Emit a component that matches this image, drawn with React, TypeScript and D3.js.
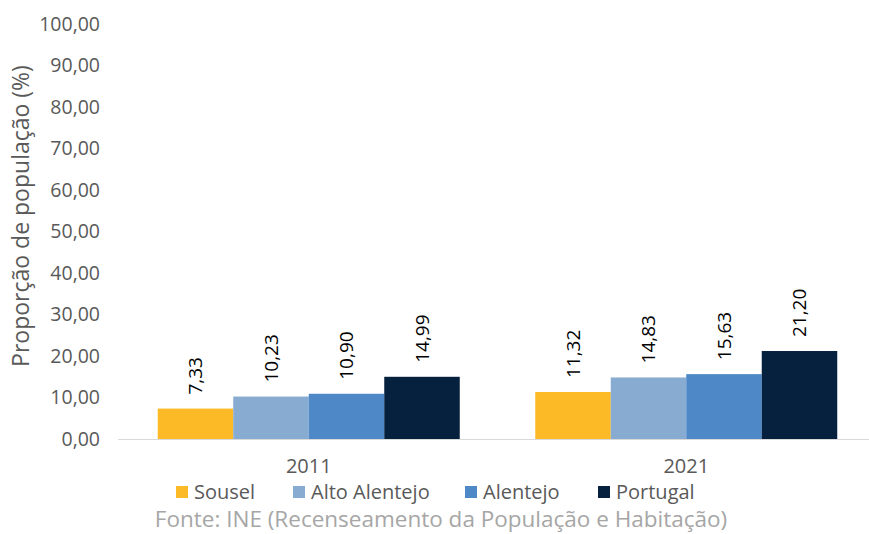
import React from "react";
import * as d3 from "d3";

const years = ["2011", "2021"];
const seriesNames = ["Sousel", "Alto Alentejo", "Alentejo", "Portugal"];
const sousel = [7.33, 11.32];
const altoAlentejo = [10.23, 14.83];
const alentejo = [10.9, 15.63];
const portugal = [14.99, 21.2];
const yTicks = [0, 10, 20, 30, 40, 50, 60, 70, 80, 90, 100];
const colors = ["#FCBA27", "#87ABD1", "#4E88C7", "#05213E"];
const yTitle = "Proporção de população (%)";
const source = "Fonte: INE (Recenseamento da População e Habitação)";

const W = 869;
const H = 534;
const FONT = "'Open Sans', sans-serif";
const fmt = (v: number) => v.toFixed(2).replace(".", ",");

export default function App() {
  const series = [sousel, altoAlentejo, alentejo, portugal];
  const y = d3.scaleLinear().domain([0, 100]).range([439, 24]);
  const x0 = d3.scaleBand().domain(years).range([120, 875]).paddingInner(0).paddingOuter(0);
  const groupW = x0.bandwidth() * 0.8;
  const x1b = d3.scaleBand().domain(seriesNames).range([0, groupW]);
  const off = (x0.bandwidth() - groupW) / 2;

  const legendX = [176, 293, 465, 598];

  return (
    <svg width={W} height={H} style={{ position: "absolute", left: 0, top: 0, background: "#fff" }}>
      <rect width={W} height={H} fill="#fff" />
      {yTicks.map((t) => (
        <text
          key={t}
          x={100}
          y={y(t)}
          dy="0.35em"
          textAnchor="end"
          fontFamily={FONT}
          fontSize={19.5}
          fill="#595959"
        >
          {fmt(t)}
        </text>
      ))}
      <text
        transform={`translate(21,216) rotate(-90)`}
        textAnchor="middle"
        fontFamily={FONT}
        fontSize={23}
        fill="#595959"
        dy="0.35em"
      >
        {yTitle}
      </text>
      {years.map((yr, i) => (
        <g key={yr}>
          {series.map((s, j) => {
            const bx = (x0(yr) as number) + off + (x1b(seriesNames[j]) as number);
            const bw = x1b.bandwidth();
            const v = s[i];
            return (
              <g key={j}>
                <rect x={bx} y={y(v)} width={bw} height={y(0) - y(v)} fill={colors[j]} />
                <text
                  transform={`translate(${bx + bw / 2},${y(v) - 14}) rotate(-90)`}
                  dy="0.35em"
                  textAnchor="start"
                  fontFamily={FONT}
                  fontSize={19}
                  fill="#000"
                >
                  {fmt(v)}
                </text>
              </g>
            );
          })}
          <text
            x={(x0(yr) as number) + x0.bandwidth() / 2}
            y={466}
            dy="0.35em"
            textAnchor="middle"
            fontFamily={FONT}
            fontSize={20}
            fill="#595959"
          >
            {yr}
          </text>
        </g>
      ))}
      <line x1={118} x2={869} y1={y(0) + 0.5} y2={y(0) + 0.5} stroke="#d9d9d9" strokeWidth={1} />
      {seriesNames.map((n, j) => (
        <g key={n}>
          <rect x={legendX[j]} y={486} width={12} height={12} fill={colors[j]} />
          <text
            x={legendX[j] + 18}
            y={492}
            dy="0.35em"
            fontFamily={FONT}
            fontSize={20}
            fill="#595959"
          >
            {n}
          </text>
        </g>
      ))}
      <text
        x={441}
        y={519}
        dy="0.35em"
        textAnchor="middle"
        fontFamily={FONT}
        fontSize={22.5}
        fill="#a6a6a6"
      >
        {source}
      </text>
    </svg>
  );
}
